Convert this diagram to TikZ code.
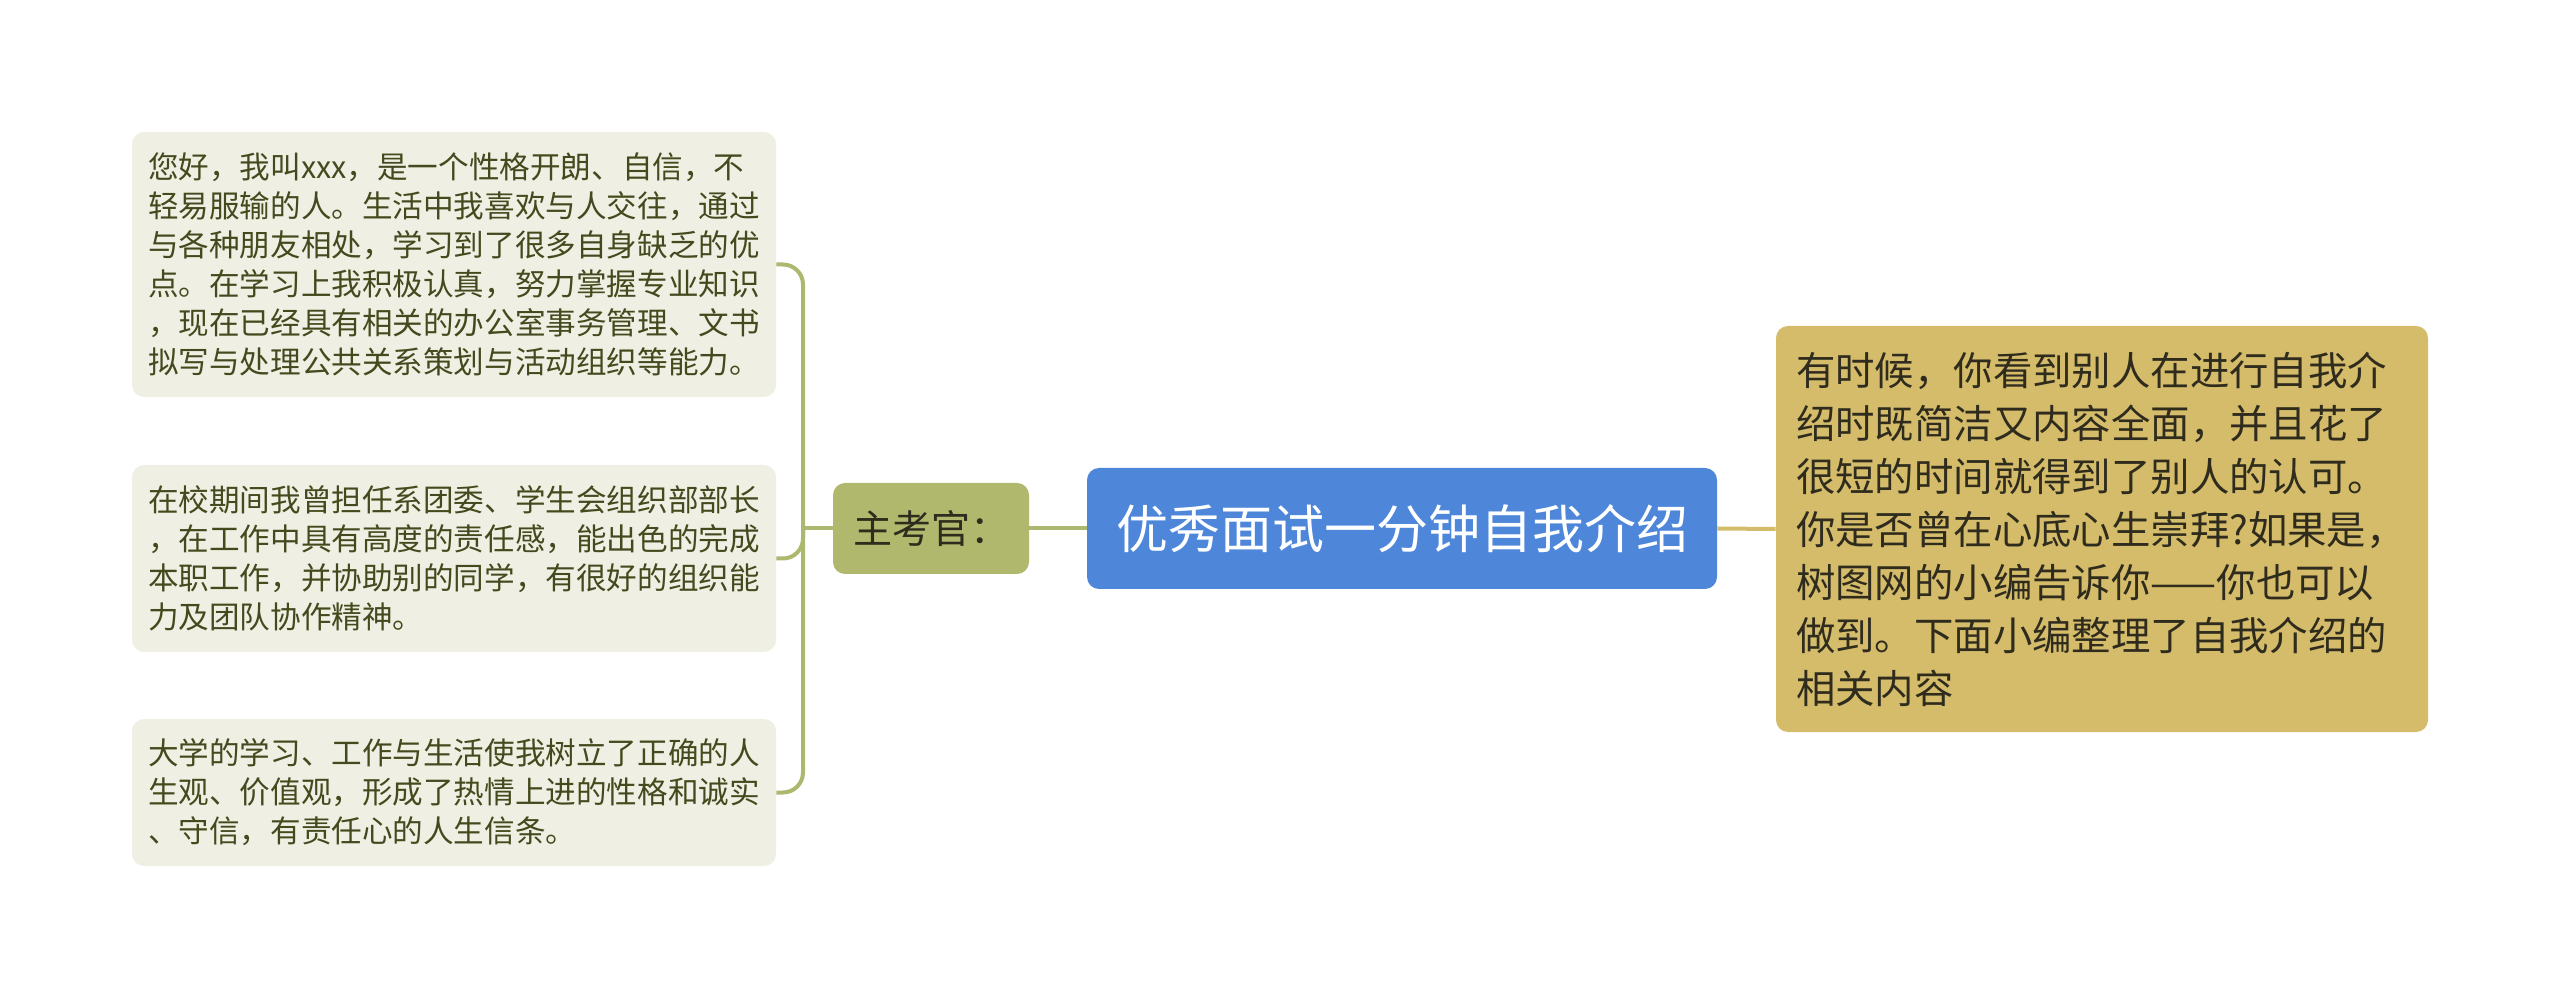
\documentclass[tikz,border=0pt]{standalone}
\usepackage{fontspec}
\setmainfont{Noto Sans CJK SC}

\definecolor{notefill}{HTML}{EFF0E3}
\definecolor{notetext}{HTML}{454A1E}
\definecolor{oliveline}{HTML}{ADB76E}
\definecolor{olivefill}{HTML}{AFB86C}
\definecolor{topicblue}{HTML}{4E87DA}
\definecolor{tanfill}{HTML}{D4BC6B}
\definecolor{darktext}{HTML}{2F2C1E}

\begin{document}
\begin{tikzpicture}[x=0.5pt, y=-0.5pt,
  note/.style={fill=notefill, rounded corners=6pt, text=notetext, align=left,
    text width=306pt, minimum width=322pt, inner sep=0pt,
    font=\fontsize{15.3}{19.5}\selectfont},
  branch/.style={draw=oliveline, line width=2pt},
  tanline/.style={draw=tanfill, line width=2pt}]

% --- Canvas ---
\useasboundingbox (0,0) rectangle (2560,999);

% --- Central topic ---
\node[fill=topicblue, rounded corners=6pt, text=white, inner sep=0pt,
  minimum width=315pt, minimum height=60.5pt,
  font=\fontsize{26}{30}\selectfont] (topic) at (1402,528.5) {优秀面试一分钟自我介绍};

% --- Examiner ---
\node[fill=olivefill, rounded corners=6pt, text=darktext, inner sep=0pt,
  minimum width=98pt, minimum height=45.5pt,
  font=\fontsize{19.5}{23}\selectfont] (examiner) at (931,528.5) {主考官：};

% --- Right summary ---
\node[fill=tanfill, rounded corners=6pt, text=darktext, align=left,
  text width=306pt, minimum width=326pt, minimum height=203pt, inner sep=0pt,
  font=\fontsize{19.7}{26.5}\selectfont] (intro) at (2102,529) {有时候，你看到别人在进行自我介\\
绍时既简洁又内容全面，并且花了\\
很短的时间就得到了别人的认可。\\
你是否曾在心底心生崇拜?如果是，\\
树图网的小编告诉你——你也可以\\
做到。下面小编整理了自我介绍的\\
相关内容};

% --- Left notes ---
\node[note, minimum height=132.5pt] (pointA) at (454,264.5) {您好，我叫xxx，是一个性格开朗、自信，不\\
轻易服输的人。生活中我喜欢与人交往，通过\\
与各种朋友相处，学习到了很多自身缺乏的优\\
点。在学习上我积极认真，努力掌握专业知识\\
，现在已经具有相关的办公室事务管理、文书\\
拟写与处理公共关系策划与活动组织等能力。};

\node[note, minimum height=93.5pt] (pointB) at (454,558.5) {在校期间我曾担任系团委、学生会组织部部长\\
，在工作中具有高度的责任感，能出色的完成\\
本职工作，并协助别的同学，有很好的组织能\\
力及团队协作精神。};

\node[note, minimum height=73.5pt] (pointC) at (454,792.5) {大学的学习、工作与生活使我树立了正确的人\\
生观、价值观，形成了热情上进的性格和诚实\\
、守信，有责任心的人生信条。};

% --- Connectors ---
\coordinate (spine) at (803,528.5);
\draw[branch] (examiner.west) -- (spine);
\draw[branch, rounded corners=10pt] (pointA.east) -| (spine);
\draw[branch, rounded corners=10pt] (pointC.east) -| (spine);
\draw[branch, rounded corners=10pt] (spine) |- (pointB.east);
\draw[branch] (examiner.east) -- (topic.west);
\draw[tanline] (topic.east) -- (intro.west);

\end{tikzpicture}
\end{document}
